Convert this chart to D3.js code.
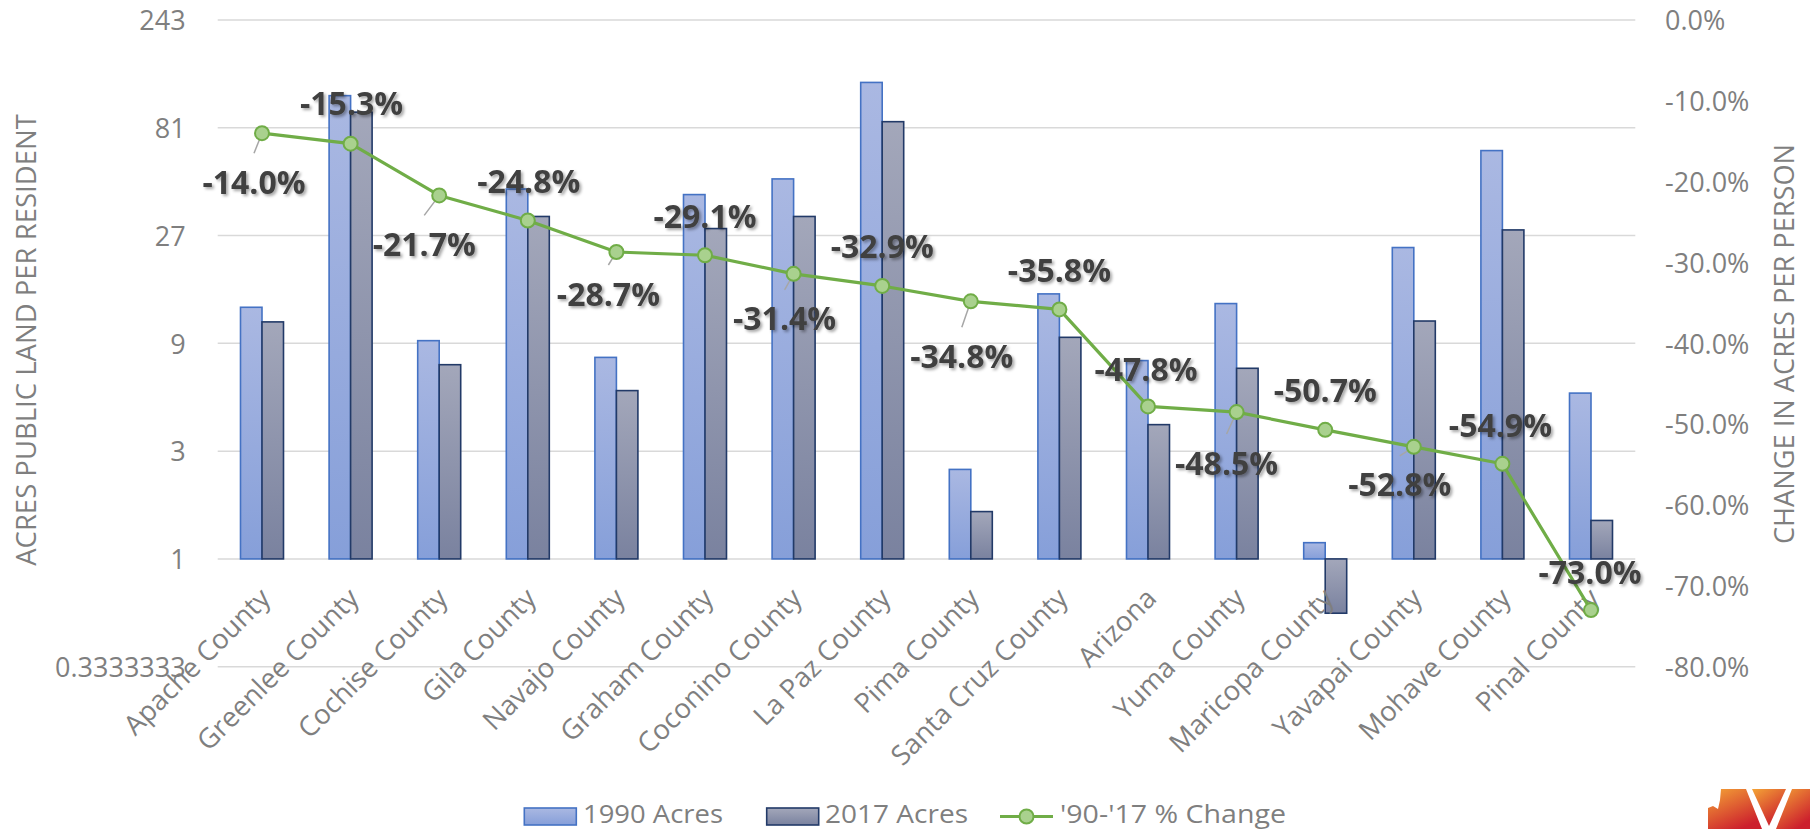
<!DOCTYPE html>
<html>
<head>
<meta charset="utf-8">
<script src="https://cdn.jsdelivr.net/npm/d3@7"></script>
<style>
body { margin: 0; background: #fff; }
text { font-family: "Open Sans", sans-serif; }
</style>
</head>
<body>
<svg id="chart" width="1810" height="829"></svg>
<script>
// ---- data ----
var categories = ['Apache County', 'Greenlee County', 'Cochise County', 'Gila County', 'Navajo County',
    'Graham County', 'Coconino County', 'La Paz County', 'Pima County', 'Santa Cruz County', 'Arizona',
    'Yuma County', 'Maricopa County', 'Yavapai County', 'Mohave County', 'Pinal County'];
var acres1990 = [13.0, 112.4, 9.25, 43.4, 7.8, 41.0, 48.1, 128.6, 2.49, 14.9, 7.55, 13.5, 1.18, 23.9, 64.2, 5.42];
var acres2017 = [11.2, 95.0, 7.24, 32.8, 5.56, 29.0, 32.8, 86.2, 1.62, 9.57, 3.93, 6.98, 0.575, 11.3, 28.6, 1.48];
var pctChange = [-0.140, -0.153, -0.217, -0.248, -0.287, -0.291, -0.314, -0.329, -0.348, -0.358,
    -0.478, -0.485, -0.507, -0.528, -0.549, -0.730];
var leftTicks = [1 / 3, 1, 3, 9, 27, 81, 243];
var leftTickLabels = ['0.3333333', '1', '3', '9', '27', '81', '243'];
var rightTicks = [0, -0.1, -0.2, -0.3, -0.4, -0.5, -0.6, -0.7, -0.8];
var seriesNames = ['1990 Acres', '2017 Acres', "'90-'17 % Change"];

// label placement (manual, like the original workbook)
var labelNudge = [[-8, 49], [1, -40], [-15, 49], [1, -39], [-8, 42], [0, -39], [-9, 45], [0, -39],
    [-9, 55], [0, -39], [-2, -37], [-10, 51], [0, -39], [-14, 38], [-2, -38], [-1, -38]];

var margins = { top: 20, left: 217.7, right: 1635.3, bottom: 666.7 };
var grey = '#7f7f7f';
var pct = function(d) { return d3.format('.1%')(d).replace('\u2212', '-'); };

var svg = d3.select('#chart');
var defs = svg.append('defs');

var addGradient = function(id, stops, x2, y2) {
    var g = defs.append('linearGradient').attr('id', id)
        .attr('x1', 0).attr('y1', 0).attr('x2', x2 || 0).attr('y2', y2 === undefined ? 1 : y2);
    stops.forEach(function(s) {
        g.append('stop').attr('offset', s[0]).attr('stop-color', s[1]);
    });
}
addGradient('g1990', [[0, '#aab8e2'], [1, '#869fd9']]);
addGradient('g2017', [[0, '#a3a7ba'], [1, '#7a829f']]);
addGradient('gLogo', [[0, '#f4a436'], [1, '#cc1f2d']], 0.6, 1);

var shadow = defs.append('filter').attr('id', 'shadow')
    .attr('x', '-10%').attr('y', '-20%').attr('width', '130%').attr('height', '150%');
shadow.append('feDropShadow').attr('dx', 2).attr('dy', 2).attr('stdDeviation', 1.4)
    .attr('flood-color', '#000').attr('flood-opacity', 0.35);

var x = d3.scaleBand().domain(categories).range([margins.left, margins.right]);
var xSub = d3.scaleBand().domain([0, 1]).range([0, 43]);
var yL = d3.scaleLog().base(3).domain([1 / 3, 243]).range([margins.bottom, margins.top]);
var yR = d3.scaleLinear().domain([-0.8, 0]).range([margins.bottom, margins.top]);

// gridlines
svg.append('g').selectAll('line').data(leftTicks).enter().append('line')
    .attr('x1', margins.left).attr('x2', margins.right)
    .attr('y1', function(d) { return yL(d); }).attr('y2', function(d) { return yL(d); })
    .attr('stroke', '#d9d9d9').attr('stroke-width', 1.5);

// left axis
var leftAxis = svg.append('g')
    .attr('transform', 'translate(' + (margins.left - 32) + ',0)')
    .call(d3.axisLeft(yL).tickValues(leftTicks).tickSize(0)
        .tickFormat(function(d, i) { return leftTickLabels[i]; }));
leftAxis.select('.domain').remove();
leftAxis.selectAll('text').attr('x', 0).attr('dy', '0.36em')
    .style('font-size', '27px').style('font-family', '"Open Sans", sans-serif').attr('fill', grey);

// right axis
var rightAxis = svg.append('g')
    .attr('transform', 'translate(1665,0)')
    .call(d3.axisRight(yR).tickValues(rightTicks).tickSize(0).tickFormat(pct));
rightAxis.select('.domain').remove();
rightAxis.selectAll('text').attr('x', 0).attr('dy', '0.36em')
    .style('font-size', '27px').style('font-family', '"Open Sans", sans-serif').attr('fill', grey);

// axis titles
svg.append('text')
    .attr('transform', 'translate(25,340) rotate(-90)')
    .attr('text-anchor', 'middle').attr('dominant-baseline', 'central')
    .style('font-size', '27.5px').attr('fill', grey)
    .text('ACRES PUBLIC LAND PER RESIDENT');
svg.append('text')
    .attr('transform', 'translate(1783,344) rotate(-90)')
    .attr('text-anchor', 'middle').attr('dominant-baseline', 'central')
    .style('font-size', '27.2px').attr('fill', grey)
    .text('CHANGE IN ACRES PER PERSON');

// bars
var bars = svg.append('g').selectAll('g').data(categories).enter().append('g')
    .attr('transform', function(d) { return 'translate(' + (x(d) + (x.bandwidth() - 43) / 2) + ',0)'; });
var barColors = [['url(#g1990)', '#4472c4'], ['url(#g2017)', '#223a68']];
bars.selectAll('rect')
    .data(function(d, i) { return [acres1990[i], acres2017[i]]; })
    .enter().append('rect')
    .attr('x', function(d, j) { return xSub(j); })
    .attr('width', xSub.bandwidth())
    .attr('y', function(d) { return Math.min(yL(d), yL(1)); })
    .attr('height', function(d) { return Math.abs(yL(d) - yL(1)); })
    .attr('fill', function(d, j) { return barColors[j][0]; })
    .attr('stroke', function(d, j) { return barColors[j][1]; })
    .attr('stroke-width', 1.6);

// category labels
svg.append('g').selectAll('text').data(categories).enter().append('text')
    .attr('transform', function(d) {
        return 'translate(' + (x(d) + x.bandwidth() / 2 + 10) + ',600) rotate(-45)';
    })
    .attr('text-anchor', 'end')
    .style('font-size', '27.5px').attr('fill', grey)
    .text(function(d) { return d; });

// line series
var cx = function(i) { return x(categories[i]) + x.bandwidth() / 2; };
var line = d3.line()
    .x(function(d, i) { return cx(i); })
    .y(function(d) { return yR(d); });

// leader lines for labels pushed below the point
var below = d3.range(pctChange.length).filter(function(i) { return labelNudge[i][1] > 0; });
svg.append('g').selectAll('line').data(below).enter().append('line')
    .attr('x1', function(i) { return cx(i); })
    .attr('y1', function(i) { return yR(pctChange[i]); })
    .attr('x2', function(i) { return cx(i) + labelNudge[i][0]; })
    .attr('y2', function(i) { return yR(pctChange[i]) + labelNudge[i][1] - 29; })
    .attr('stroke', '#a6a6a6').attr('stroke-width', 1.5);

svg.append('path').datum(pctChange)
    .attr('d', line)
    .attr('fill', 'none').attr('stroke', '#70ad47').attr('stroke-width', 3.2)
    .attr('stroke-linejoin', 'round');

svg.append('g').selectAll('circle').data(pctChange).enter().append('circle')
    .attr('cx', function(d, i) { return cx(i); })
    .attr('cy', function(d) { return yR(d); })
    .attr('r', 7)
    .attr('fill', '#a9d18e').attr('stroke', '#70ad47').attr('stroke-width', 2);

// data labels
svg.append('g').selectAll('text').data(pctChange).enter().append('text')
    .attr('x', function(d, i) { return cx(i) + labelNudge[i][0]; })
    .attr('y', function(d, i) { return yR(d) + labelNudge[i][1]; })
    .attr('dy', '0.36em')
    .attr('text-anchor', 'middle')
    .attr('filter', 'url(#shadow)')
    .style('font-size', '32px').style('font-weight', '700').attr('fill', '#404040')
    .text(pct);

// legend
var legend = svg.append('g');
var legendItems = [
    { x: 524.3, textX: 583, w: 140 },
    { x: 766.7, textX: 825, w: 143 },
    { x: 1000, textX: 1060, w: 226 }
];
legendItems.forEach(function(item, i) {
    if (i < 2) {
        legend.append('rect')
            .attr('x', item.x).attr('y', 808).attr('width', 52).attr('height', 17)
            .attr('fill', barColors[i][0]).attr('stroke', barColors[i][1]).attr('stroke-width', 1.6);
    } else {
        legend.append('line')
            .attr('x1', item.x).attr('x2', item.x + 53).attr('y1', 816.5).attr('y2', 816.5)
            .attr('stroke', '#70ad47').attr('stroke-width', 3.2);
        legend.append('circle')
            .attr('cx', item.x + 26.5).attr('cy', 816.5).attr('r', 7)
            .attr('fill', '#a9d18e').attr('stroke', '#70ad47').attr('stroke-width', 2);
    }
    legend.append('text')
        .attr('x', item.textX).attr('y', 823)
        .attr('textLength', item.w).attr('lengthAdjust', 'spacingAndGlyphs')
        .style('font-size', '25.5px').attr('fill', grey)
        .text(seriesNames[i]);
});

// logo corner
var logo = svg.append('g').attr('fill', 'url(#gLogo)');
logo.append('path').attr('d', 'M1721,789 L1746,789 L1762,829 L1708,829 L1708,808 L1713,806 L1718,809 L1720,800 Z');
logo.append('path').attr('d', 'M1752,789 L1786,789 L1769,826 Z');
logo.append('path').attr('d', 'M1792,789 L1810,789 L1810,829 L1776,829 Z');
</script>
</body>
</html>
